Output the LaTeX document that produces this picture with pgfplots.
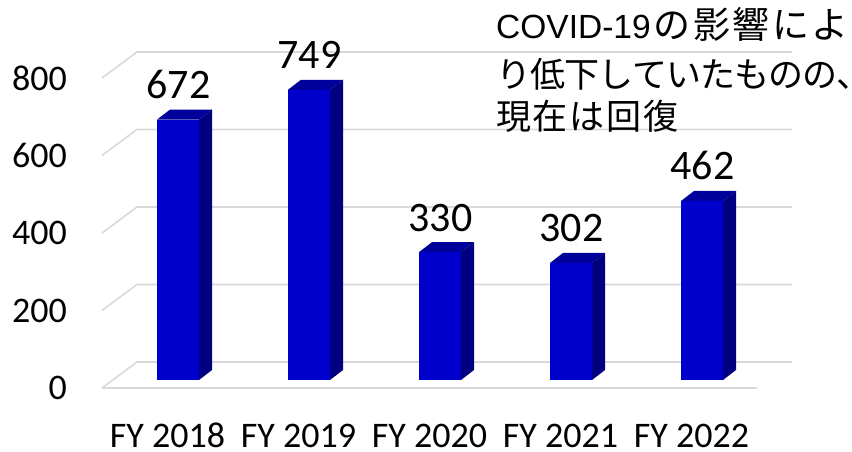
\documentclass[border=0pt]{standalone}
\usepackage{pgfplots}
\pgfplotsset{compat=1.18}
\usepackage{fontspec}
\setmainfont{Carlito}
\newfontfamily\jpfont{Noto Sans CJK JP}
\newfontfamily\arialfont{Liberation Sans}
\definecolor{barfront}{HTML}{0000CC}
\definecolor{bartop}{HTML}{00009A}
\definecolor{barside}{HTML}{000080}
\definecolor{gridc}{HTML}{D9D9D9}
\newlength\cw
\newcommand\cb[1]{\makebox[\cw][l]{#1}}
\pgfplotstableread{
x v
0 672
1 749
2 330
3 302
4 462
}\data
\begin{document}
\begin{tikzpicture}
\path[use as bounding box] (0,0) rectangle (852bp,452bp);
\begin{axis}[
  at={(102bp,64bp)}, anchor=south west,
  x=131bp, y=0.3875bp,
  xmin=-0.5, xmax=4.5, ymin=0, ymax=800,
  clip=false,
  axis line style={draw=none},
  major tick length=0pt,
  ytick={0,200,400,600,800},
  xtick={0,1,2,3,4},
  xticklabels={FY 2018,FY 2019,FY 2020,FY 2021,FY 2022},
  /pgf/number format/assume math mode=true,
  tick label style={font=\fontsize{36bp}{36bp}\selectfont, inner sep=0pt},
  yticklabel style={anchor=east, xshift=-35bp},
  xticklabel style={anchor=base, yshift=-59bp},
]
\pgfplotsinvokeforeach{0,200,400,600,800}{
  \draw[gridc, line width=1.6bp] (axis cs:-0.5,#1) -- ++(35bp,26bp) -- ++(655bp,0bp);
}
\draw[gridc, line width=1.6bp] (axis cs:-0.5,0) -- (axis cs:4.5,0);
\addplot[only marks, mark=*, mark size=0.01pt, scatter,
  visualization depends on={\thisrow{v} \as \barval},
  scatter/@pre marker code/.code={%
    \pgfmathsetmacro\hh{\barval*0.3875}%
    \pgfmathsetmacro\yb{8-\hh}%
    \pgfmathsetmacro\ybb{18-\hh}%
    \pgfscope
    \pgfsetfillcolor{barfront}%
    \pgfpathrectanglecorners{\pgfpoint{-10.5bp}{\yb bp}}{\pgfpoint{31.5bp}{8bp}}%
    \pgfusepath{fill}%
    \pgfsetfillcolor{bartop}%
    \pgfpathmoveto{\pgfpoint{-10.5bp}{8bp}}%
    \pgfpathlineto{\pgfpoint{31.5bp}{8bp}}%
    \pgfpathlineto{\pgfpoint{44.5bp}{18bp}}%
    \pgfpathlineto{\pgfpoint{2.5bp}{18bp}}%
    \pgfpathclose
    \pgfusepath{fill}%
    \pgfsetfillcolor{barside}%
    \pgfpathmoveto{\pgfpoint{31.5bp}{8bp}}%
    \pgfpathlineto{\pgfpoint{44.5bp}{18bp}}%
    \pgfpathlineto{\pgfpoint{44.5bp}{\ybb bp}}%
    \pgfpathlineto{\pgfpoint{31.5bp}{\yb bp}}%
    \pgfpathclose
    \pgfusepath{fill}%
    \endpgfscope
    \pgfscope
    \pgfsetfillopacity{0}\pgfsetstrokeopacity{0}%
  },
  scatter/@post marker code/.code={\endpgfscope},
] table[x=x, y=v] {\data};
\addplot[only marks, mark=none, draw=none,
  nodes near coords,
  nodes near coords style={anchor=base, inner sep=0pt, xshift=11bp, yshift=29bp,
    font=\fontsize{42bp}{42bp}\selectfont, text=black},
] table[x=x, y=v] {\data};
\end{axis}
\begin{scope}[every node/.style={anchor=base west, inner sep=0pt}]
\node at (496bp,413bp) {\arialfont\fontsize{33.5bp}{34bp}\selectfont COVID-19\jpfont\fontsize{37bp}{37bp}\selectfont\setlength\cw{39.5bp}\hspace{3bp}\cb{の}\cb{影}\cb{響}\cb{に}\cb{よ}};
\node at (496bp,364bp) {\jpfont\fontsize{35bp}{35bp}\selectfont\setlength\cw{34bp}\cb{り}\cb{低}\cb{下}\cb{し}\cb{て}\cb{い}\cb{た}\cb{も}\cb{の}\cb{の}\cb{、}};
\node at (496bp,322bp) {\jpfont\fontsize{35bp}{35bp}\selectfont\setlength\cw{36.8bp}\cb{現}\cb{在}\cb{は}\cb{回}\cb{復}};
\end{scope}
\end{tikzpicture}
\end{document}
